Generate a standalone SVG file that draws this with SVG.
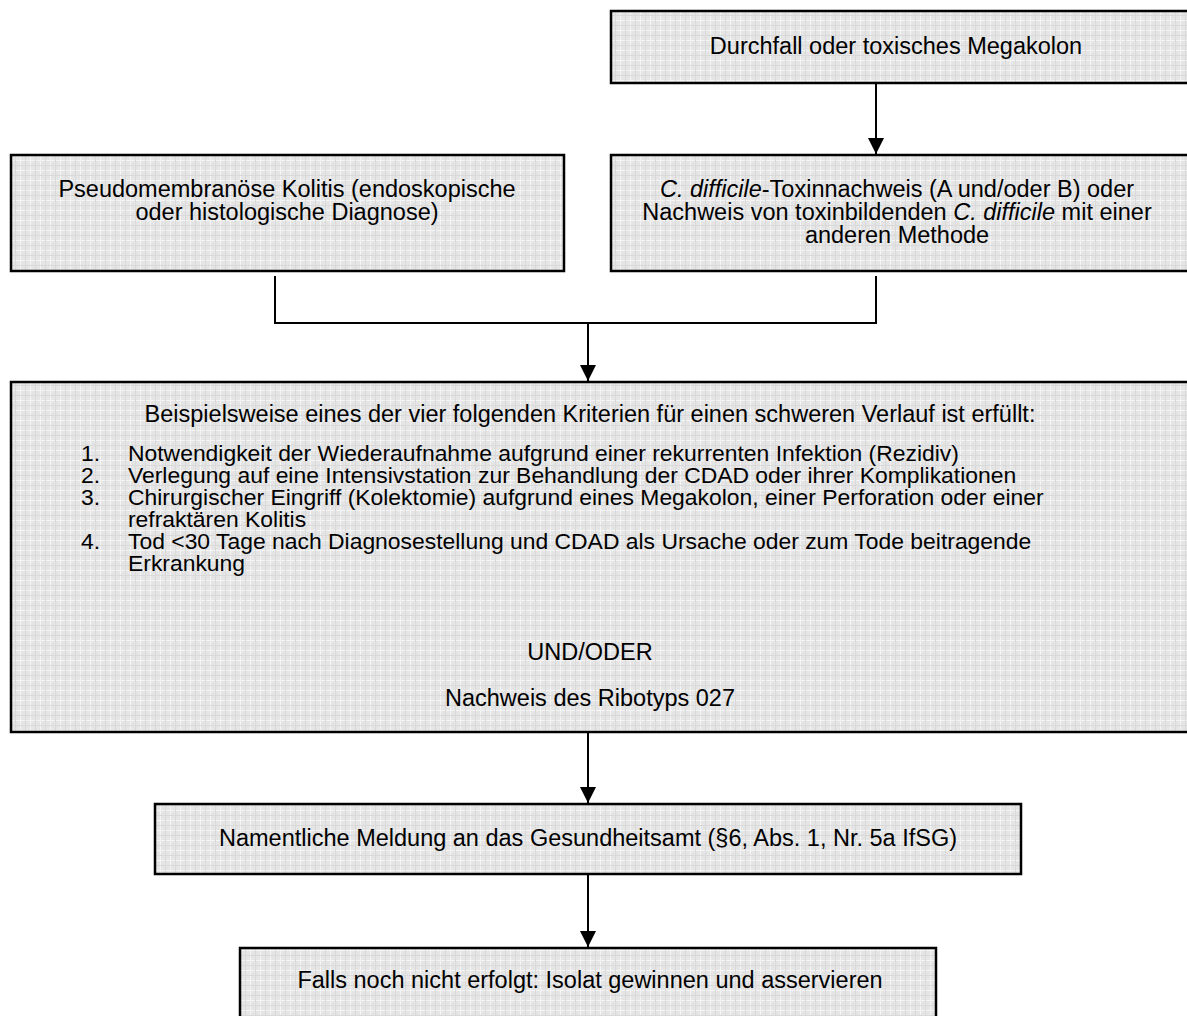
<svg xmlns="http://www.w3.org/2000/svg" width="1187" height="1016" viewBox="0 0 1187 1016">
  <defs>
    <!-- light grey grid texture used as box fill -->
    <pattern id="grid" width="10" height="10" patternUnits="userSpaceOnUse">
      <rect width="10" height="10" fill="#e5e5e5"/>
      <rect x="0" y="0" width="10" height="1" fill="#f4f4f4"/>
      <rect x="0" y="0" width="1" height="10" fill="#f4f4f4"/>
      <rect x="5" y="0" width="1" height="10" fill="#dadada"/>
      <rect x="0" y="5" width="10" height="1" fill="#dadada"/>
    </pattern>
    <marker id="arrow" markerUnits="userSpaceOnUse" markerWidth="16" markerHeight="16" viewBox="0 0 16 16" refX="16" refY="8" orient="auto">
      <path d="M0,0 L16,8 L0,16 Z" fill="#000"/>
    </marker>
  </defs>
  <style>
    .box { fill: url(#grid); stroke: #000; stroke-width: 2.5; }
    .t { font-family: "Liberation Sans", Arial, sans-serif; font-size: 23.5px; fill: #000; }
    .li { font-size: 22.9px; }
    .c { text-anchor: middle; }
    .conn { fill: none; stroke: #000; stroke-width: 2; }
  </style>

  <rect width="1187" height="1016" fill="#fff"/>

  <g id="connectors">
    <path class="conn" d="M876,84 V154" marker-end="url(#arrow)"/>
    <path class="conn" d="M275,276 V323 H876 V276"/>
    <path class="conn" d="M588,323 V381" marker-end="url(#arrow)"/>
    <path class="conn" d="M588,733 V803" marker-end="url(#arrow)"/>
    <path class="conn" d="M588,875 V947" marker-end="url(#arrow)"/>
  </g>

  <g id="node-durchfall">
    <rect class="box" x="611" y="11" width="590" height="72"/>
    <text class="t c" x="896" y="54">Durchfall oder toxisches Megakolon</text>
  </g>

  <g id="node-pseudomembranoese">
    <rect class="box" x="11" y="155" width="553" height="116"/>
    <text class="t c" x="287" y="197">Pseudomembranöse Kolitis (endoskopische</text>
    <text class="t c" x="287" y="220">oder histologische Diagnose)</text>
  </g>

  <g id="node-toxinnachweis">
    <rect class="box" x="611" y="155" width="590" height="116"/>
    <text class="t c" x="897" y="197"><tspan font-style="italic">C. difficile</tspan>-Toxinnachweis (A und/oder B) oder</text>
    <text class="t c" x="897" y="220">Nachweis von toxinbildenden <tspan font-style="italic">C. difficile</tspan> mit einer</text>
    <text class="t c" x="897" y="243">anderen Methode</text>
  </g>

  <g id="node-kriterien">
    <rect class="box" x="11" y="382" width="1190" height="350"/>
    <text class="t c" x="590" y="422">Beispielsweise eines der vier folgenden Kriterien für einen schweren Verlauf ist erfüllt:</text>
    <text class="t li" x="81" y="461">1.</text>
    <text class="t li" x="128" y="461">Notwendigkeit der Wiederaufnahme aufgrund einer rekurrenten Infektion (Rezidiv)</text>
    <text class="t li" x="81" y="483">2.</text>
    <text class="t li" x="128" y="483">Verlegung auf eine Intensivstation zur Behandlung der CDAD oder ihrer Komplikationen</text>
    <text class="t li" x="81" y="505">3.</text>
    <text class="t li" x="128" y="505">Chirurgischer Eingriff (Kolektomie) aufgrund eines Megakolon, einer Perforation oder einer</text>
    <text class="t li" x="128" y="527">refraktären Kolitis</text>
    <text class="t li" x="81" y="549">4.</text>
    <text class="t li" x="128" y="549">Tod &lt;30 Tage nach Diagnosestellung und CDAD als Ursache oder zum Tode beitragende</text>
    <text class="t li" x="128" y="571">Erkrankung</text>
    <text class="t c" x="590" y="660">UND/ODER</text>
    <text class="t c" x="590" y="706">Nachweis des Ribotyps 027</text>
  </g>

  <g id="node-meldung">
    <rect class="box" x="155" y="804" width="866" height="70"/>
    <text class="t c" x="588" y="846">Namentliche Meldung an das Gesundheitsamt (§6, Abs. 1, Nr. 5a IfSG)</text>
  </g>

  <g id="node-isolat">
    <rect class="box" x="240" y="948" width="696" height="90"/>
    <text class="t c" x="590" y="988">Falls noch nicht erfolgt: Isolat gewinnen und asservieren</text>
  </g>
</svg>
